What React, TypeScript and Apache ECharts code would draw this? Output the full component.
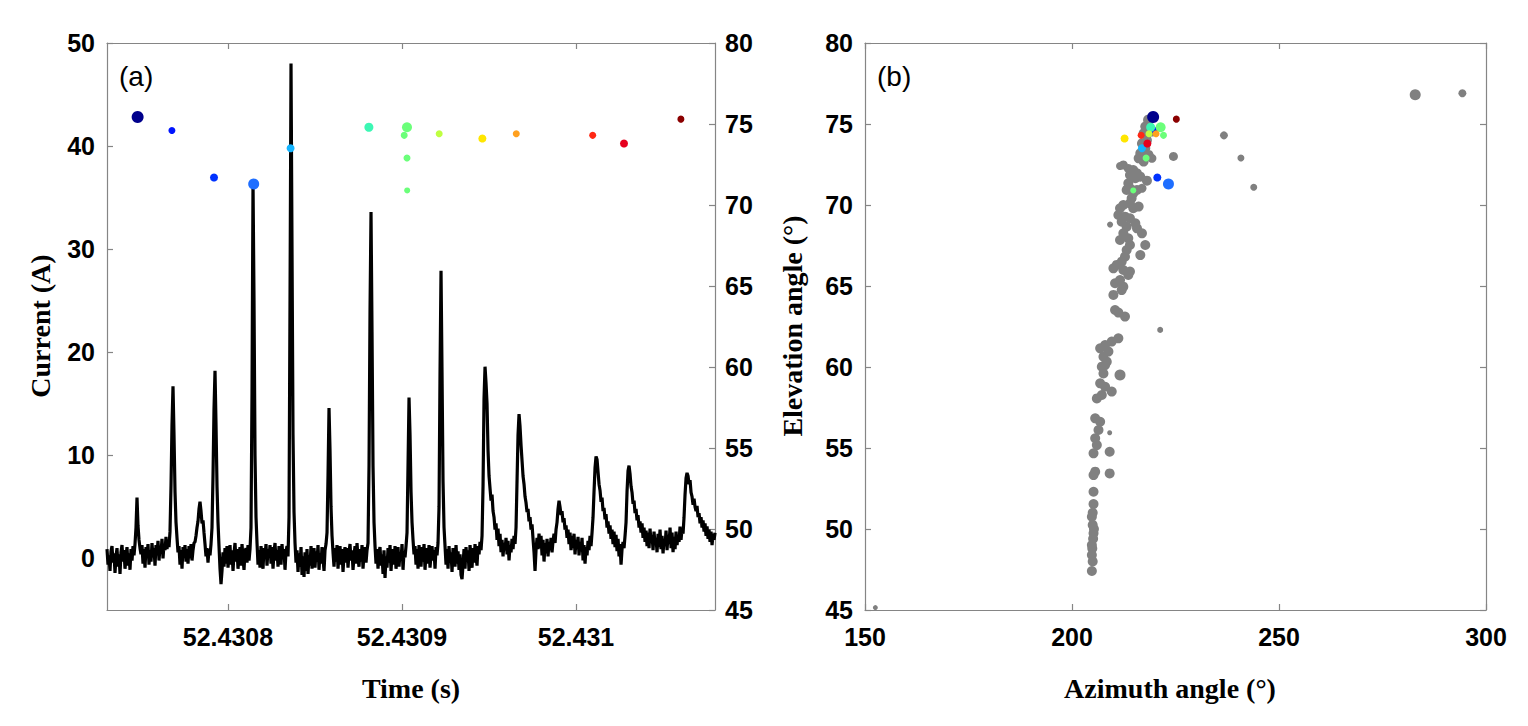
import React, { useEffect, useRef } from "react";
import * as echarts from "echarts";

// ---------- Panel (a): current waveform ----------
const SAMPLE_START = 52.4307305; // time of first sample (s)
const SAMPLE_STEP = 5.74713e-7; // sampling step (s)
const T_MIN = 52.4307305;
const T_MAX = 52.4310799;

const CURRENT = [
  0.9, -0.6, 0.3, -1.2, 0.7, 1.2, -0.4, 0.5, -1.4, 0.2, 1.0, -0.8, 0.4, -1.5, 0.6, 1.3, -0.3, 0.8, -1.0, 0.1,
  1.1, -0.7, 0.5, -1.1, 0.9, -0.2, 1.2, 0.3, 1.4, 3.0, 5.9, 3.2, 1.8, 1.0, 0.4, 1.3, -0.5, 0.9, -0.9, 1.1,
  0.2, 1.4, -0.6, 0.8, -0.3, 1.5, 0.1, 1.0, -0.7, 1.3, 0.4, 1.7, -0.2, 1.1, 0.6, 1.9, 0.0, 1.4, 0.8, 2.1,
  0.9, 1.8, 1.1, 2.6, 7.0, 13.0, 16.7, 12.0, 6.5, 3.5, 2.0, 0.6, 1.2, -0.6, 0.8, -1.0, 1.1, 0.1, 1.3, -0.3,
  0.9, -0.5, 1.2, 0.0, 1.4, -0.2, 0.8, 1.5, 1.6, 2.2, 3.0, 3.6, 4.8, 5.5, 4.6, 3.4, 3.7, 2.5, 1.4, 0.2,
  1.0, -0.4, 0.9, 0.3, 1.4, 3.0, 8.0, 14.5, 18.2, 13.0, 7.0, 3.5, 1.2, -1.0, -2.5, -1.2, 0.6, -0.8, 1.0, -0.5,
  1.2, -0.9, 0.4, 1.3, -0.6, 0.8, -1.2, 0.5, 1.5, -0.3, 0.9, -1.0, 0.2, 1.1, -0.7, 1.4, 0.0, -1.1, 0.7, 1.0,
  -0.4, 1.3, -0.2, 0.9, 3.0, 16.0, 36.6, 25.0, 10.0, 4.0, 1.5, -0.6, 0.8, -0.9, 1.2, 0.1, -1.0, 1.0, 0.3, 1.4,
  -0.7, 0.9, 0.1, 1.3, -0.5, 1.1, -1.0, 0.6, 1.5, -0.2, 0.8, -0.8, 1.2, 0.3, -0.6, 1.4, 0.0, 0.9, -1.1, 0.7,
  1.2, 0.2, 4.0, 25.0, 48.0, 30.0, 12.0, 4.5, 1.5, -0.4, 0.8, -1.3, 0.5, -0.8, 1.1, -1.6, 0.2, -1.8, 0.6, -1.2,
  0.9, -1.5, 0.3, -0.7, 1.2, -1.0, 0.4, 1.0, -0.9, 0.7, -0.3, 1.3, -1.1, 0.5, -0.5, 1.1, 0.0, -1.2, 0.8, 1.4,
  2.5, 8.0, 14.6, 10.5, 5.0, 2.2, 0.6, -0.8, 1.0, -0.3, 1.3, -1.0, 0.6, 1.2, -0.6, 0.9, -1.3, 0.4, 1.1, -0.4,
  1.0, -0.9, 0.6, 1.4, -0.2, 0.8, -1.1, 0.3, 1.2, -0.5, 1.5, 0.0, -0.8, 0.9, -0.3, 1.3, -1.0, 0.5, 1.1, -0.4,
  0.8, 1.5, 9.0, 24.0, 33.6, 22.0, 9.0, 3.5, 1.2, -0.5, 0.9, -1.0, 0.6, 1.1, -0.7, 0.4, -1.5, 0.8, -1.9, 0.2,
  -0.9, 1.0, -0.4, 1.3, -1.2, 0.5, 0.9, -0.6, 1.2, -1.0, 0.3, 1.1, -0.8, 0.6, -0.2, 1.4, -1.1, 0.7, 0.1, 1.2,
  2.5, 9.0, 15.6, 12.0, 6.5, 3.5, 1.8, 0.4, 1.2, -0.6, 0.9, -1.0, 1.3, 0.2, -0.8, 1.1, -0.3, 1.4, -1.1, 0.6,
  1.0, -0.5, 1.3, -0.9, 0.4, 1.2, -0.2, 0.8, -1.0, 1.1, 0.3, 1.5, 5.0, 18.0, 27.9, 18.0, 7.5, 3.0, 1.2, -0.6,
  0.9, -1.0, 1.2, -0.4, 0.6, -1.3, 1.0, 0.1, -0.8, 1.3, -0.5, 0.7, -1.1, 0.4, -1.6, -2.0, -0.6, 0.9, -1.0, 1.1,
  -0.3, 0.8, -1.2, 1.3, 0.0, -0.9, 1.0, -0.4, 1.4, 0.2, -0.7, 1.2, 0.4, 1.6, 0.8, 2.2, 7.0, 15.5, 18.6, 17.0,
  15.0, 10.5, 8.0, 6.8, 5.6, 6.2, 4.6, 4.0, 2.8, 3.4, 1.8, 2.9, 1.2, 2.4, 0.6, 1.8, 0.2, 1.5, 0.8, 2.0,
  0.4, 1.7, -0.2, 1.3, 0.6, 1.9, 0.9, 2.2, 1.4, 3.0, 7.5, 12.0, 14.0, 12.8, 11.0, 9.5, 8.0, 7.2, 6.0, 5.4,
  4.5, 4.8, 3.6, 4.0, 2.8, 3.3, 1.9, 0.6, -1.2, 0.8, 2.0, 0.9, 2.4, 1.0, 2.2, 0.3, 1.8, -0.3, 1.5, 0.5,
  1.9, 0.2, 1.6, 0.8, 2.0, 0.6, 1.7, 2.4, 1.5, 2.8, 3.5, 4.8, 5.6, 5.0, 4.2, 4.6, 3.5, 3.9, 2.8, 3.2,
  2.0, 2.8, 1.4, 2.5, 0.8, 2.2, 1.0, 2.4, 0.4, 1.8, 0.9, 2.1, 0.3, 1.6, 0.7, 2.0, -0.2, 1.3, -0.5, 1.1,
  0.3, 1.7, 0.8, 2.2, 1.2, 2.5, 4.0, 6.5, 8.8, 9.9, 9.6, 8.4, 7.2, 6.6, 5.5, 5.9, 4.6, 4.9, 3.8, 4.3,
  3.0, 3.6, 2.4, 3.2, 1.9, 2.8, 1.4, 2.6, 1.1, 2.3, 0.7, 1.9, 0.2, 1.4, -0.6, 0.9, 1.6, 1.0, 2.2, 3.5,
  6.5, 8.5, 9.0, 8.2, 7.0, 6.4, 5.3, 5.6, 4.4, 4.8, 3.7, 4.2, 3.0, 3.6, 2.5, 3.4, 2.0, 3.0, 1.6, 2.7,
  1.2, 2.5, 1.0, 2.9, 1.5, 2.3, 0.8, 2.6, 1.3, 2.0, 0.6, 2.4, 1.1, 2.8, 0.9, 2.2, 0.5, 1.9, 1.2, 2.7,
  0.8, 2.3, 1.4, 3.0, 1.0, 2.5, 0.6, 2.1, 0.9, 2.6, 1.3, 2.2, 1.6, 3.1, 1.8, 2.9, 2.4, 4.0, 6.2, 7.8,
  8.3, 8.0, 7.2, 7.6, 6.4, 6.0, 5.2, 5.8, 5.0, 4.6, 5.1, 4.0, 4.4, 3.4, 4.0, 3.0, 3.7, 2.6, 3.4, 2.2,
  3.1, 1.9, 2.8, 1.6, 2.6, 1.3, 2.4, 1.8, 2.5,
];

// ---------- Located pulses (coloured, shared by both panels) ----------
const PULSE_TIME = [
  52.4307481, 52.4307678, 52.430792, 52.4308148, 52.430836, 52.430881, 52.4309029, 52.4309013,
  52.4309029, 52.430903, 52.4309214, 52.4309462, 52.4309657, 52.4310096, 52.4310276, 52.4310603,
];
const PULSE_ELEV = [75.43, 74.6, 71.7, 71.3, 73.5, 74.8, 74.8, 74.3, 72.9, 70.9, 74.4, 74.1, 74.4, 74.3, 73.8, 75.3];
const PULSE_AZ = [219.6, 220.0, 220.6, 223.3, 216.9, 219.0, 221.4, 222.1, 217.9, 214.8, 218.6, 212.7, 220.3, 216.7, 218.2, 225.2];
const PULSE_SIZE = [12, 7, 8, 11, 8, 9, 10, 7, 7, 6, 7, 8, 7, 7, 8, 7];
const PULSE_COLOR = [
  "#00008c", "#0014ff", "#0032ff", "#1e6eff", "#14b4ff", "#3cf7b4", "#6bff7a", "#6bff7a",
  "#6bff7a", "#6bff7a", "#bfff40", "#ffe600", "#ffa01e", "#ff2814", "#e6001e", "#8b0000",
];

// ---------- Panel (b): all located sources (grey) [azimuth, elevation, size] ----------
const GREY_SOURCES = [
  [218.5, 75.25, 11], [217.7, 74.84, 10], [219.3, 74.53, 10], [217.3, 74.43, 10], [218.1, 74.0, 10],
  [216.9, 73.8, 10], [217.7, 73.5, 10], [216.5, 73.19, 10], [218.5, 73.09, 10], [219.3, 72.88, 9],
  [217.3, 72.68, 10], [216.1, 72.88, 10], [212.4, 72.47, 9], [211.6, 72.41, 8], [213.6, 72.26, 9],
  [214.8, 72.16, 10], [215.7, 71.96, 10], [214.0, 71.85, 10], [215.3, 71.65, 10], [216.5, 71.75, 10],
  [218.1, 71.5, 10], [213.6, 71.34, 10], [214.0, 71.03, 10], [213.2, 70.93, 10], [215.7, 70.93, 10],
  [216.9, 71.03, 9], [214.8, 70.72, 10], [214.4, 70.41, 10], [214.0, 70.1, 10], [212.4, 70.0, 10],
  [211.6, 69.8, 10], [214.8, 69.8, 10], [216.1, 69.9, 10], [211.2, 69.38, 10], [212.8, 69.28, 10],
  [212.0, 68.97, 10], [214.0, 69.18, 10], [215.3, 68.87, 10], [213.2, 68.66, 10], [215.7, 68.56, 10],
  [216.9, 68.25, 10], [209.2, 68.79, 6], [212.4, 68.25, 10], [213.6, 67.94, 10], [211.6, 67.84, 10],
  [214.0, 67.53, 10], [213.2, 67.22, 10], [217.7, 67.53, 10], [216.5, 66.91, 10], [212.8, 66.81, 10],
  [212.0, 66.5, 10], [210.8, 66.3, 10], [210.0, 66.09, 10], [212.4, 65.99, 10], [214.0, 65.89, 10],
  [213.6, 65.68, 10], [211.6, 65.37, 10], [210.4, 65.17, 10], [212.4, 64.96, 10], [212.0, 64.75, 10],
  [210.0, 64.45, 10], [210.4, 63.52, 10], [211.2, 63.36, 10], [212.8, 63.11, 10], [221.3, 62.29, 6],
  [211.2, 61.77, 10], [209.6, 61.57, 10], [208.0, 61.36, 10], [206.8, 61.15, 10], [208.8, 60.95, 10],
  [207.6, 60.64, 10], [208.4, 60.33, 10], [207.2, 60.02, 10], [208.0, 60.12, 10], [207.6, 59.6, 10],
  [211.6, 59.5, 11], [206.8, 58.99, 10], [208.0, 58.78, 10], [209.6, 58.48, 10], [206.0, 58.06, 10],
  [207.2, 58.27, 10], [205.6, 56.83, 10], [206.8, 56.62, 10], [206.4, 56.11, 10], [209.1, 55.94, 5],
  [205.6, 55.6, 10], [206.0, 55.18, 10], [205.2, 54.67, 10], [209.1, 54.77, 10], [205.6, 53.54, 10],
  [205.2, 53.33, 10], [209.1, 53.43, 10], [205.2, 52.3, 10], [205.2, 51.54, 10], [205.0, 51.0, 10],
  [204.8, 50.76, 10], [205.3, 50.0, 10], [205.0, 50.25, 10], [205.2, 49.73, 10], [205.1, 49.4, 10],
  [204.8, 49.01, 10], [204.9, 48.8, 10], [204.8, 48.39, 10], [205.0, 48.0, 10], [204.8, 47.41, 10],
  [224.5, 73.0, 9], [236.7, 74.3, 8], [240.8, 72.9, 7], [243.9, 71.1, 7], [282.9, 76.8, 11],
  [294.3, 76.9, 8], [152.5, 45.15, 5],
];

// ---------- Tick values ----------
const TIME_TICKS = [52.4308, 52.4309, 52.431];
const CURRENT_TICKS = [0, 10, 20, 30, 40, 50];

const AXIS_GREY = "#858585";
const TICK_FONT = "Liberation Sans";
const TITLE_FONT = "Liberation Serif";

const GRID_A = { left: 107, top: 43, width: 608, height: 567 };
const GRID_B = { left: 865, top: 43, width: 621, height: 567 };

function labelStyle(extra: any = {}) {
  return {
    color: "#000",
    fontFamily: TICK_FONT,
    fontWeight: "bold",
    fontSize: 25,
    ...extra,
  };
}

export default function App() {
  const ref = useRef<HTMLDivElement>(null);

  useEffect(() => {
    if (!ref.current) return;
    const chart = echarts.init(ref.current, undefined, { renderer: "svg" });

    const lineData = CURRENT.map((v, i) => [SAMPLE_START + i * SAMPLE_STEP, v]);
    const leftPulses = PULSE_TIME.map((t, i) => ({
      value: [t, PULSE_ELEV[i]],
      symbolSize: PULSE_SIZE[i],
      itemStyle: { color: PULSE_COLOR[i], opacity: 1 },
    }));
    const rightPulses = PULSE_AZ.map((a, i) => ({
      value: [a, PULSE_ELEV[i]],
      symbolSize: PULSE_SIZE[i],
      itemStyle: { color: PULSE_COLOR[i], opacity: 1 },
    }));
    const greyData = GREY_SOURCES.map((g) => ({ value: [g[0], g[1]], symbolSize: g[2] }));

    const axisLine = { show: true, onZero: false, lineStyle: { color: AXIS_GREY, width: 1.2 } };
    const tick = (extra: any = {}) => ({
      show: true,
      inside: true,
      length: 6,
      lineStyle: { color: AXIS_GREY, width: 1.2 },
      ...extra,
    });

    const option: any = {
      animation: false,
      backgroundColor: "#fff",
      grid: [GRID_A, GRID_B],
      xAxis: [
        {
          type: "value",
          gridIndex: 0,
          position: "bottom",
          min: T_MIN,
          max: T_MAX,
          axisLine,
          axisTick: tick({ customValues: TIME_TICKS }),
          axisLabel: labelStyle({
            customValues: TIME_TICKS,
            margin: 14,
            formatter: (v: number) => String(parseFloat(v.toFixed(4))),
          }),
          splitLine: { show: false },
        },
        {
          type: "value",
          gridIndex: 0,
          position: "top",
          min: T_MIN,
          max: T_MAX,
          axisLine,
          axisTick: tick({ customValues: TIME_TICKS }),
          axisLabel: { show: false },
          splitLine: { show: false },
        },
        {
          type: "value",
          gridIndex: 1,
          position: "bottom",
          min: 150,
          max: 300,
          interval: 50,
          axisLine,
          axisTick: tick(),
          axisLabel: labelStyle({ margin: 14 }),
          splitLine: { show: false },
        },
        {
          type: "value",
          gridIndex: 1,
          position: "top",
          min: 150,
          max: 300,
          interval: 50,
          axisLine,
          axisTick: tick(),
          axisLabel: { show: false },
          splitLine: { show: false },
        },
      ],
      yAxis: [
        {
          type: "value",
          gridIndex: 0,
          position: "left",
          min: -5,
          max: 50,
          axisLine,
          axisTick: tick({ customValues: CURRENT_TICKS }),
          axisLabel: labelStyle({ customValues: CURRENT_TICKS, margin: 12 }),
          splitLine: { show: false },
        },
        {
          type: "value",
          gridIndex: 0,
          position: "right",
          min: 45,
          max: 80,
          interval: 5,
          axisLine,
          axisTick: tick(),
          axisLabel: labelStyle({ margin: 10 }),
          splitLine: { show: false },
        },
        {
          type: "value",
          gridIndex: 1,
          position: "left",
          min: 45,
          max: 80,
          interval: 5,
          axisLine,
          axisTick: tick(),
          axisLabel: labelStyle({ margin: 12 }),
          splitLine: { show: false },
        },
        {
          type: "value",
          gridIndex: 1,
          position: "right",
          min: 45,
          max: 80,
          interval: 5,
          axisLine,
          axisTick: tick(),
          axisLabel: { show: false },
          splitLine: { show: false },
        },
      ],
      series: [
        {
          type: "line",
          xAxisIndex: 0,
          yAxisIndex: 0,
          data: lineData,
          showSymbol: false,
          symbol: "none",
          lineStyle: { color: "#000", width: 3.2 },
          z: 2,
        },
        {
          type: "scatter",
          xAxisIndex: 0,
          yAxisIndex: 1,
          data: leftPulses,
          symbol: "circle",
          itemStyle: { opacity: 1 },
          z: 4,
        },
        {
          type: "scatter",
          xAxisIndex: 2,
          yAxisIndex: 2,
          data: greyData,
          symbol: "circle",
          itemStyle: { color: "#808080", opacity: 1 },
          z: 3,
        },
        {
          type: "scatter",
          xAxisIndex: 2,
          yAxisIndex: 2,
          data: rightPulses,
          symbol: "circle",
          itemStyle: { opacity: 1 },
          z: 4,
        },
      ],
      graphic: [
        {
          type: "text",
          x: 119,
          y: 76,
          style: { text: "(a)", font: `28px "${TICK_FONT}"`, fill: "#000", textVerticalAlign: "middle" },
        },
        {
          type: "text",
          x: 877,
          y: 76,
          style: { text: "(b)", font: `28px "${TICK_FONT}"`, fill: "#000", textVerticalAlign: "middle" },
        },
        {
          type: "text",
          x: 40,
          y: 326,
          rotation: Math.PI / 2,
          style: {
            text: "Current (A)",
            font: `bold 28px "${TITLE_FONT}"`,
            fill: "#000",
            textAlign: "center",
            textVerticalAlign: "middle",
          },
        },
        {
          type: "text",
          x: 411,
          y: 688,
          style: {
            text: "Time (s)",
            font: `bold 28px "${TITLE_FONT}"`,
            fill: "#000",
            textAlign: "center",
            textVerticalAlign: "middle",
          },
        },
        {
          type: "text",
          x: 792,
          y: 326,
          rotation: Math.PI / 2,
          style: {
            text: "Elevation angle (°)",
            font: `bold 28px "${TITLE_FONT}"`,
            fill: "#000",
            textAlign: "center",
            textVerticalAlign: "middle",
          },
        },
        {
          type: "text",
          x: 1170,
          y: 688,
          style: {
            text: "Azimuth angle (°)",
            font: `bold 28px "${TITLE_FONT}"`,
            fill: "#000",
            textAlign: "center",
            textVerticalAlign: "middle",
          },
        },
      ],
    };

    chart.setOption(option);
    return () => chart.dispose();
  }, []);

  return (
    <div
      ref={ref}
      style={{ position: "absolute", left: 0, top: 0, width: 1528, height: 726, background: "#fff" }}
    />
  );
}
